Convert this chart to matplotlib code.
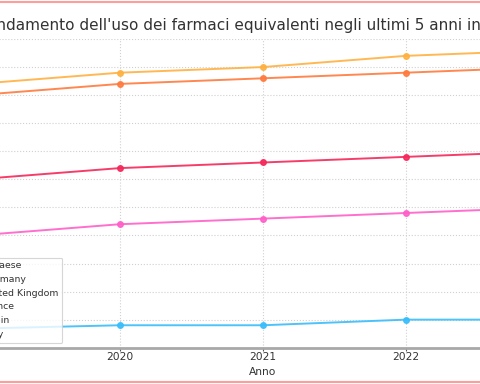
import matplotlib
matplotlib.use("Agg")
import matplotlib.pyplot as plt
from matplotlib.lines import Line2D

years = [2019, 2020, 2021, 2022, 2023]
countries = ["Germany", "United Kingdom", "France", "Spain", "Italy"]
germany = [72, 74, 75, 77, 78]
united_kingdom = [70, 72, 73, 74, 75]
france = [55, 57, 58, 59, 60]
spain = [45, 47, 48, 49, 50]
italy = [28.4, 29, 29, 30, 30]
series = [germany, united_kingdom, france, spain, italy]
colors = ["#FFB140", "#FF7A3D", "#F5285A", "#FF5FC8", "#38BDFB"]

fig = plt.figure(figsize=(4.8, 3.84), dpi=100)
fig.patch.set_facecolor("white")
ax = fig.add_axes([-0.1081, 0.0945, 1.3108, 0.8039])

for name, vals, c in zip(countries, series, colors):
    ax.plot(years, vals, color=c, lw=1.4, marker="o", markersize=4, label=name, alpha=0.9)

ax.set_xlim(2018.8, 2023.2)
ax.set_ylim(25, 80)
ax.set_xticks(years)
ax.set_yticks(range(25, 81, 5))
ax.grid(True, linestyle=":", color="#d0d0d0", linewidth=0.8)
ax.set_axisbelow(True)
for s in ["top", "right"]:
    ax.spines[s].set_visible(False)
ax.spines["bottom"].set_color("#a8a8a8")
ax.spines["bottom"].set_linewidth(2)
ax.spines["left"].set_color("#a8a8a8")
ax.spines["left"].set_linewidth(2)
ax.tick_params(axis="both", labelsize=7.7, colors="#555555", labelcolor="#333333",
               length=2, pad=1.2)

ax.set_title("Andamento dell'uso dei farmaci equivalenti negli ultimi 5 anni in Europa",
             fontsize=11, color="#333333", pad=6.5)
ax.set_xlabel("Anno", fontsize=7.7, color="#333333", labelpad=3.5)
ax.set_ylabel("Percentuale di utilizzo (%)", fontsize=7.7, color="#333333")

leg = ax.legend(title="Paese", loc="lower left", fontsize=6.75, title_fontsize=6.75,
                frameon=True, borderaxespad=0.55)
leg.get_frame().set_edgecolor("#cccccc")
leg.get_frame().set_linewidth(0.8)
leg.get_title().set_color("#333333")
for t in leg.get_texts():
    t.set_color("#333333")

for yy in [1 - 1.5 / 384, 2.5 / 384]:
    fig.add_artist(Line2D([0, 1], [yy, yy], transform=fig.transFigure,
                          color="#FF9C9C", lw=1.5))

fig.savefig("out.png", dpi=100)
